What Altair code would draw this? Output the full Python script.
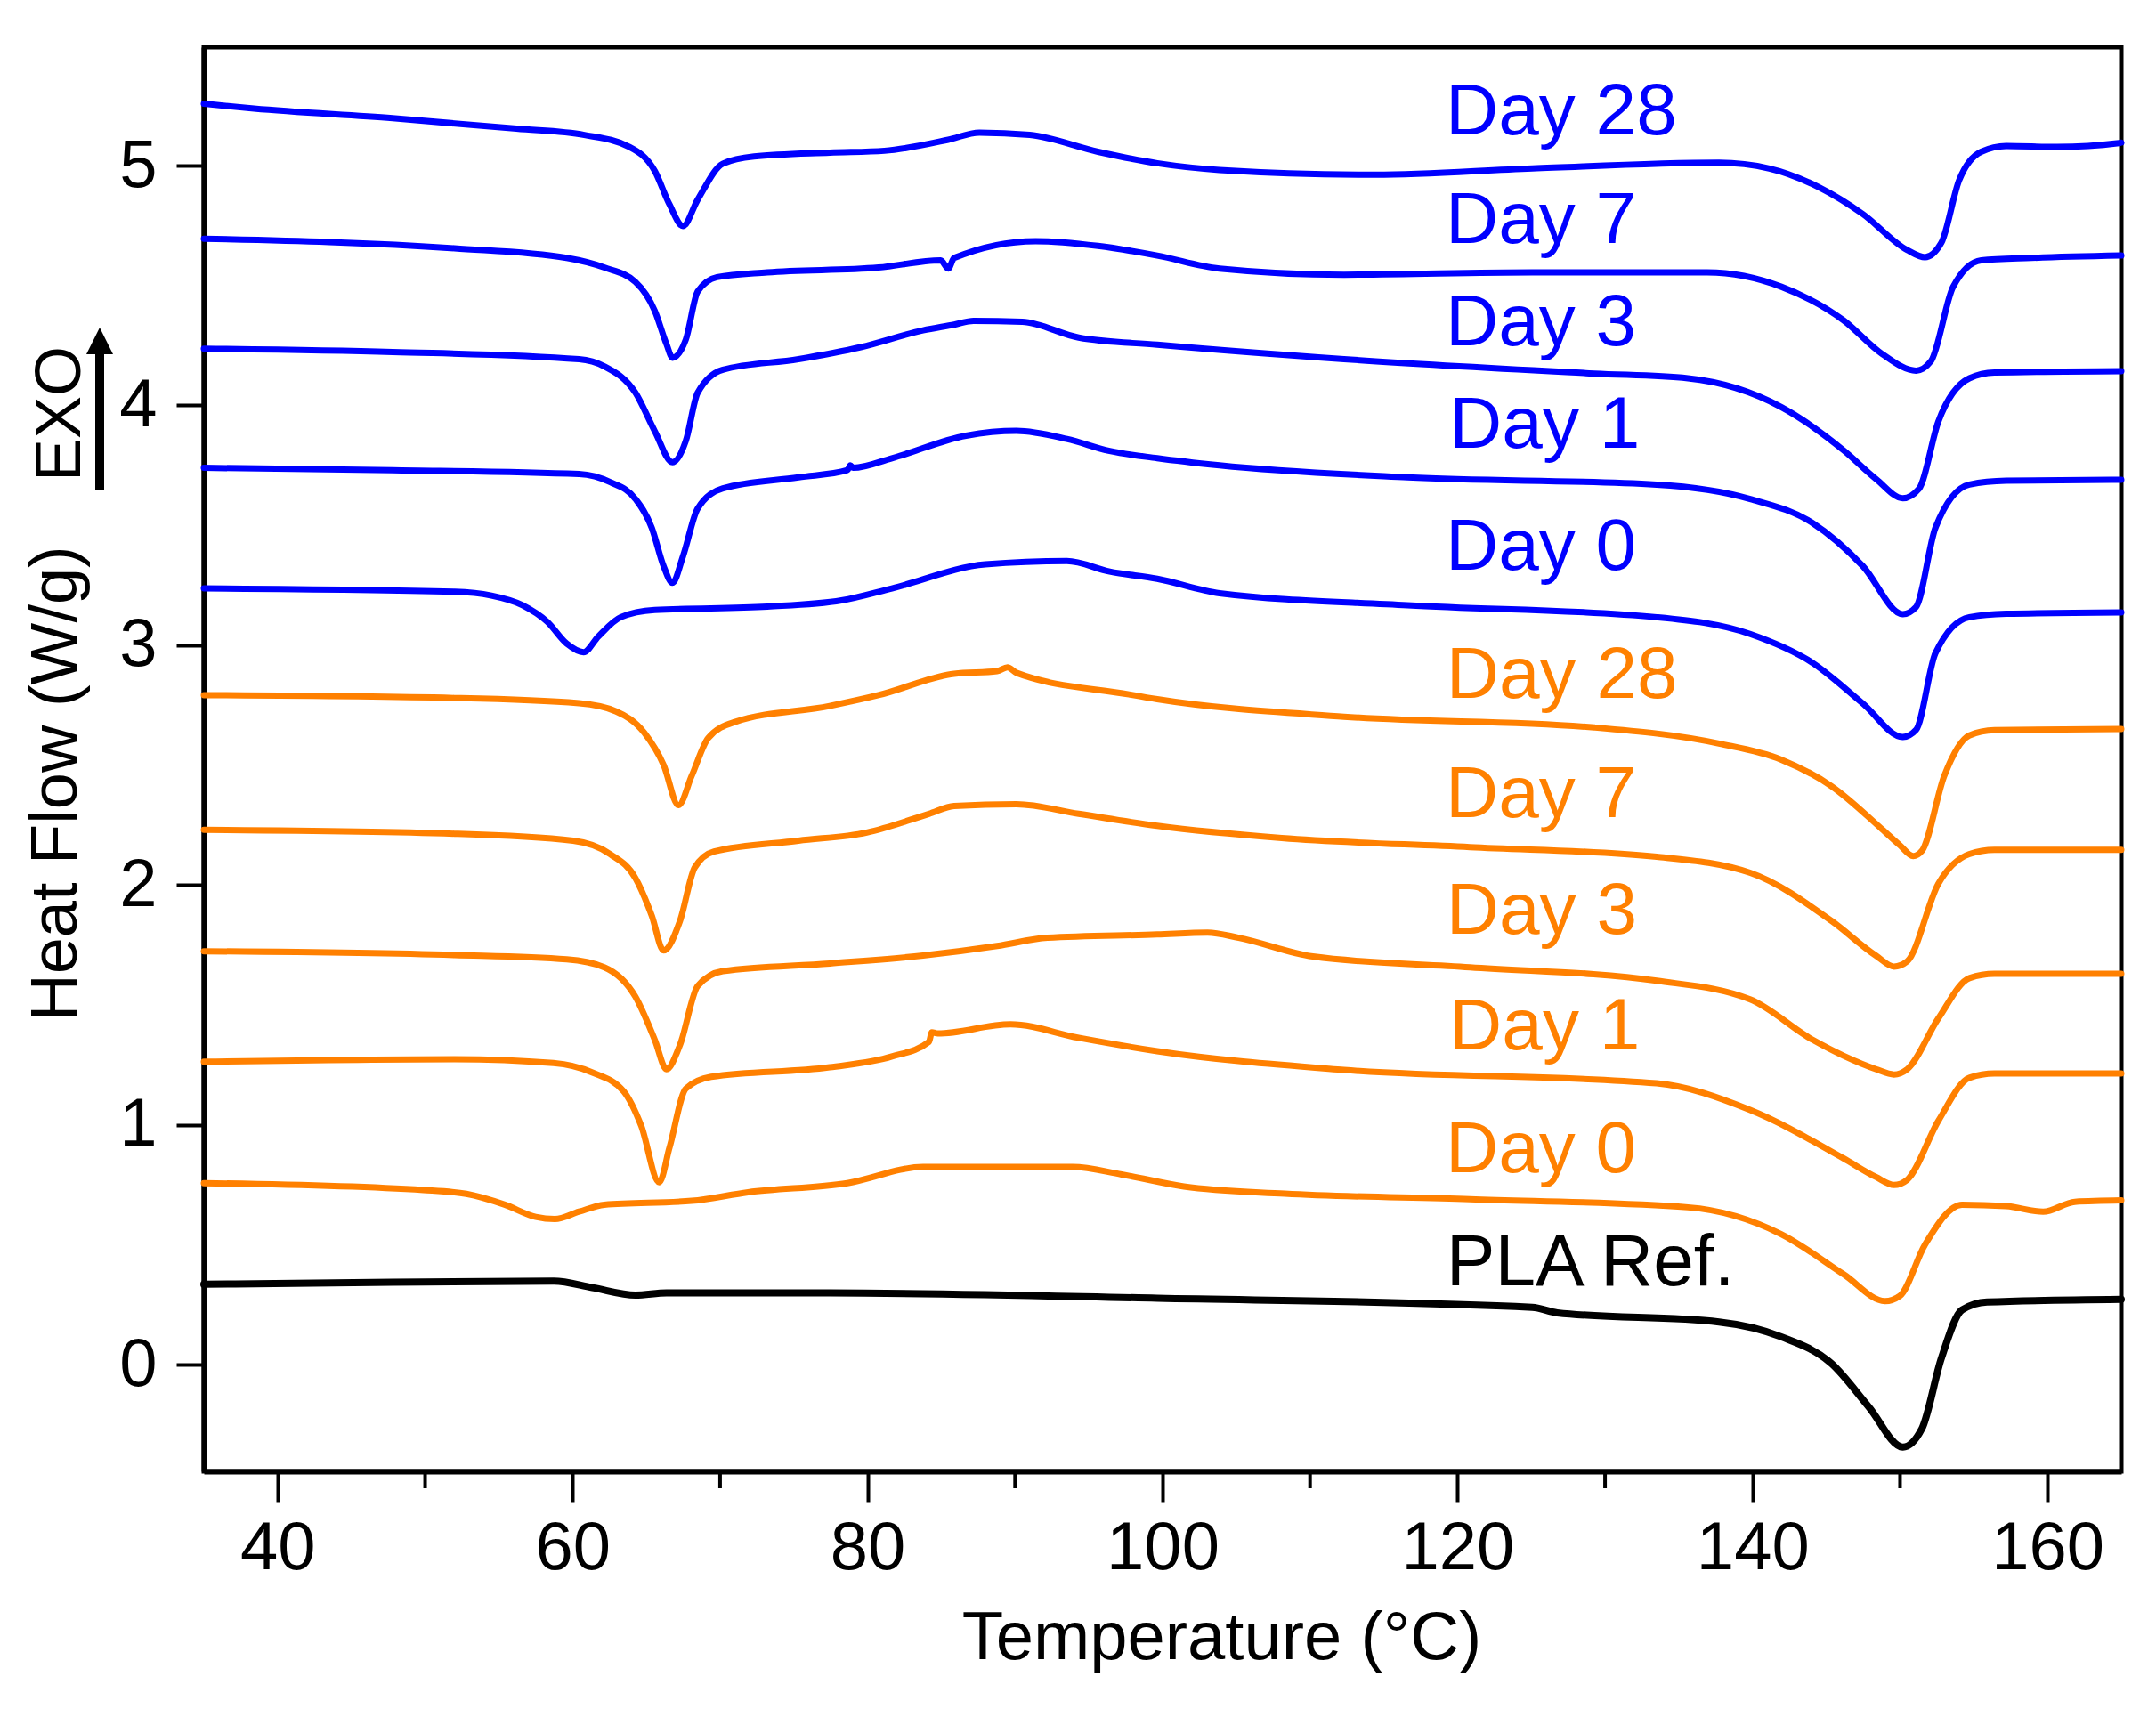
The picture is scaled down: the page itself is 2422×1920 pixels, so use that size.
import altair as alt
import pandas as pd

BLUE = "#0000FF"
ORANGE = "#FF8000"
BLACK = "#000000"
FONT = "Liberation Sans"

# ---- Blue series (temperature in °C, heat flow in W/g, shifted) ----
b28_t = [35.0, 38.4, 47.8, 56.2, 60.8, 63.86, 65.57, 66.57, 67.48, 68.48, 70.19, 72.3, 77.43, 81.14, 85.47, 87.58, 91.0, 95.62, 99.64, 103.86, 114.42, 125.06, 137.73, 141.14, 144.56, 147.48, 150.49, 151.69, 152.8, 154.0, 155.5, 157.2, 160.64, 164.85, 165.0]
b28_y = [5.258, 5.238, 5.198, 5.154, 5.128, 5.078, 4.978, 4.838, 4.748, 4.858, 5.008, 5.038, 5.054, 5.062, 5.108, 5.138, 5.128, 5.058, 5.010, 4.982, 4.962, 4.988, 5.012, 4.988, 4.908, 4.798, 4.648, 4.618, 4.678, 4.938, 5.058, 5.082, 5.078, 5.094, 5.096]

b7_t = [35.0, 52.0, 59.6, 62.15, 64.26, 65.57, 66.37, 66.77, 67.68, 68.48, 69.79, 73.2, 80.74, 84.96, 85.47, 85.87, 91.4, 95.62, 99.64, 103.86, 112.3, 125.06, 136.92, 141.95, 146.17, 148.78, 151.09, 152.1, 153.6, 155.5, 158.9, 165.0]
b7_y = [4.695, 4.655, 4.615, 4.575, 4.515, 4.395, 4.255, 4.199, 4.275, 4.475, 4.535, 4.555, 4.575, 4.605, 4.571, 4.615, 4.685, 4.665, 4.625, 4.571, 4.545, 4.555, 4.555, 4.495, 4.355, 4.215, 4.145, 4.185, 4.495, 4.605, 4.615, 4.625]

b3_t = [35.0, 47.8, 60.44, 62.15, 64.26, 65.57, 66.77, 67.68, 68.48, 70.19, 75.32, 79.54, 83.76, 85.87, 87.18, 90.49, 94.31, 99.64, 112.3, 129.28, 135.62, 141.95, 146.17, 148.38, 150.19, 151.29, 152.6, 154.7, 156.4, 165.0]
b3_y = [4.237, 4.223, 4.193, 4.163, 4.053, 3.893, 3.763, 3.853, 4.053, 4.149, 4.193, 4.243, 4.313, 4.337, 4.353, 4.349, 4.283, 4.253, 4.193, 4.133, 4.113, 3.993, 3.813, 3.693, 3.613, 3.653, 3.933, 4.113, 4.137, 4.143]

b1_t = [35.0, 47.8, 60.44, 62.55, 64.26, 65.37, 66.17, 66.77, 67.48, 68.48, 70.19, 75.32, 78.63, 78.83, 79.03, 81.65, 86.67, 90.09, 93.51, 96.42, 99.64, 103.86, 116.62, 133.5, 139.84, 144.06, 147.48, 150.19, 151.09, 152.4, 154.7, 157.2, 165.0]
b1_y = [3.740, 3.730, 3.714, 3.680, 3.610, 3.490, 3.330, 3.260, 3.370, 3.570, 3.654, 3.700, 3.730, 3.750, 3.740, 3.780, 3.874, 3.894, 3.860, 3.810, 3.780, 3.750, 3.700, 3.670, 3.610, 3.510, 3.330, 3.130, 3.160, 3.490, 3.670, 3.686, 3.690]

b0_t = [35.0, 52.0, 54.5, 56.6, 58.3, 59.6, 60.74, 61.75, 63.26, 65.57, 73.2, 78.23, 81.65, 87.98, 93.51, 96.42, 99.64, 103.86, 116.62, 133.5, 139.84, 144.06, 147.48, 150.19, 151.09, 152.4, 154.7, 157.2, 165.0]
b0_y = [3.237, 3.223, 3.207, 3.167, 3.097, 3.007, 2.971, 3.037, 3.117, 3.147, 3.161, 3.187, 3.237, 3.337, 3.351, 3.307, 3.277, 3.217, 3.167, 3.117, 3.047, 2.927, 2.757, 2.617, 2.647, 2.967, 3.117, 3.131, 3.137]

# ---- Orange series ----
o28_t = [35.0, 52.0, 60.44, 62.95, 64.86, 66.17, 67.18, 68.08, 69.19, 71.0, 77.43, 80.74, 85.87, 88.78, 89.49, 90.09, 97.73, 99.64, 112.3, 129.28, 137.73, 141.95, 145.36, 148.78, 149.99, 150.89, 151.49, 153.0, 154.7, 156.4, 165.0]
o28_y = [2.792, 2.780, 2.758, 2.724, 2.635, 2.501, 2.333, 2.456, 2.613, 2.680, 2.747, 2.792, 2.881, 2.892, 2.908, 2.885, 2.795, 2.775, 2.702, 2.657, 2.590, 2.523, 2.412, 2.233, 2.166, 2.121, 2.143, 2.456, 2.624, 2.646, 2.651]

o7_t = [35.0, 52.0, 60.04, 62.55, 64.26, 65.37, 66.17, 67.28, 68.28, 69.59, 75.32, 79.94, 84.16, 85.87, 90.09, 94.31, 99.64, 108.08, 120.84, 133.5, 139.84, 145.36, 148.38, 149.59, 150.49, 152.6, 154.7, 156.4, 165.0]
o7_y = [2.230, 2.214, 2.185, 2.129, 2.029, 1.872, 1.727, 1.850, 2.073, 2.140, 2.185, 2.219, 2.297, 2.330, 2.337, 2.297, 2.247, 2.196, 2.158, 2.118, 2.051, 1.850, 1.705, 1.660, 1.682, 2.006, 2.129, 2.147, 2.147]

o3_t = [35.0, 52.0, 59.6, 62.15, 64.26, 65.57, 66.37, 67.28, 68.48, 70.19, 77.43, 83.76, 88.78, 92.2, 99.64, 103.05, 105.17, 110.19, 120.84, 133.5, 139.84, 144.06, 146.17, 148.38, 149.59, 150.49, 152.6, 154.7, 156.4, 165.0]
o3_y = [1.724, 1.708, 1.690, 1.657, 1.534, 1.355, 1.232, 1.333, 1.579, 1.641, 1.673, 1.706, 1.746, 1.780, 1.794, 1.802, 1.780, 1.702, 1.657, 1.601, 1.523, 1.355, 1.288, 1.232, 1.210, 1.232, 1.444, 1.612, 1.630, 1.630]

o1_t = [35.0, 52.0, 58.7, 61.35, 63.46, 64.66, 65.87, 66.57, 67.68, 69.39, 77.43, 81.65, 84.16, 84.36, 84.76, 89.69, 94.31, 99.64, 112.3, 133.5, 139.84, 146.17, 148.38, 149.59, 150.49, 152.6, 154.7, 156.4, 165.0]
o1_y = [1.263, 1.274, 1.258, 1.218, 1.140, 0.995, 0.760, 0.905, 1.151, 1.200, 1.240, 1.285, 1.346, 1.386, 1.381, 1.419, 1.363, 1.307, 1.229, 1.173, 1.062, 0.860, 0.782, 0.749, 0.771, 1.017, 1.196, 1.214, 1.214]

o0_t = [35.0, 49.9, 52.8, 55.4, 57.5, 58.8, 60.44, 62.15, 68.08, 71.9, 78.63, 83.76, 93.91, 97.22, 101.45, 108.28, 120.84, 135.62, 141.95, 146.17, 148.98, 149.99, 151.69, 154.2, 157.2, 159.7, 161.85, 165.0]
o0_y = [0.757, 0.728, 0.712, 0.667, 0.616, 0.607, 0.638, 0.667, 0.683, 0.719, 0.757, 0.824, 0.824, 0.793, 0.743, 0.713, 0.690, 0.656, 0.544, 0.377, 0.265, 0.287, 0.500, 0.667, 0.661, 0.638, 0.679, 0.685]

# ---- PLA reference (black) ----
pla_t = [35.0, 47.8, 58.73, 61.35, 64.26, 66.37, 77.43, 99.64, 125.06, 126.76, 137.73, 141.95, 145.36, 147.88, 150.19, 151.49, 152.8, 154.2, 155.9, 165.0]
pla_y = [0.335, 0.344, 0.348, 0.321, 0.290, 0.299, 0.299, 0.277, 0.239, 0.216, 0.178, 0.116, 0.004, -0.176, -0.344, -0.266, 0.026, 0.228, 0.261, 0.272]

# ---- curve labels ----
label_text = ["Day 28", "Day 7", "Day 3", "Day 1", "Day 0",
              "Day 28", "Day 7", "Day 3", "Day 1", "Day 0", "PLA Ref."]
label_t = [119.19, 119.19, 119.19, 119.44, 119.19,
           119.24, 119.19, 119.24, 119.44, 119.19, 119.24]
label_y = [5.231, 4.779, 4.351, 3.923, 3.415, 2.882, 2.384, 1.896, 1.413, 0.904, 0.431]
label_color = [BLUE] * 5 + [ORANGE] * 5 + [BLACK]

x_major = [40, 60, 80, 100, 120, 140, 160]
x_minor = [50, 70, 90, 110, 130, 150]
y_major = [0, 1, 2, 3, 4, 5]

series = [
    ("b28", b28_t, b28_y, BLUE), ("b7", b7_t, b7_y, BLUE), ("b3", b3_t, b3_y, BLUE),
    ("b1", b1_t, b1_y, BLUE), ("b0", b0_t, b0_y, BLUE),
    ("o28", o28_t, o28_y, ORANGE), ("o7", o7_t, o7_y, ORANGE), ("o3", o3_t, o3_y, ORANGE),
    ("o1", o1_t, o1_y, ORANGE), ("o0", o0_t, o0_y, ORANGE),
]
rows = []
for name, ts, ys, col in series:
    for i, (t, y) in enumerate(zip(ts, ys)):
        rows.append({"series": name, "t": t, "y": y, "color": col, "i": i})
df = pd.DataFrame(rows)
df_pla = pd.DataFrame({"t": pla_t, "y": pla_y, "i": list(range(len(pla_t)))})
df_lab = pd.DataFrame({"t": label_t, "y": label_y, "text": label_text, "color": label_color})
df_minor = pd.DataFrame({"t": x_minor})

W, H = 2154, 1600

X = alt.X("t:Q", scale=alt.Scale(domain=[35, 165], nice=False, zero=False),
          axis=alt.Axis(values=x_major, tickSize=35, labelPadding=14, labelFlush=False,
                        title="Temperature (°C)", titleX=1143, titleY=210,
                        titleAlign="center", titleBaseline="alphabetic"))
Y = alt.Y("y:Q", scale=alt.Scale(domain=[-0.445, 5.494], nice=False, zero=False),
          axis=alt.Axis(values=y_major, tickSize=31, labelPadding=22, labelFlush=False,
                        title="Heat Flow (W/g)", titleAngle=270, titleX=-144, titleY=827,
                        titleFontSize=74,
                        titleAlign="center", titleBaseline="alphabetic"))

lines = alt.Chart(df).mark_line(strokeWidth=7, interpolate="monotone",
                                strokeCap="round", strokeJoin="round").encode(
    x=X, y=Y, detail="series:N", color=alt.Color("color:N", scale=None),
    order=alt.Order("i:Q"))

pla = alt.Chart(df_pla).mark_line(strokeWidth=8, interpolate="monotone", color=BLACK,
                                  strokeCap="round", strokeJoin="round").encode(
    x=X, y=Y, order=alt.Order("i:Q"))

labels = alt.Chart(df_lab).mark_text(font=FONT, fontSize=82, align="left",
                                     baseline="middle", dy=2).encode(
    x=X, y=Y, text="text:N", color=alt.Color("color:N", scale=None))

minor = alt.Chart(df_minor).mark_rule(color=BLACK, strokeWidth=4).encode(
    x=X, y=alt.value(H), y2=alt.value(H + 19))

one = alt.Data(values=[{"a": 1}])
exo = alt.Chart(one).mark_text(text="EXO", font=FONT, fontSize=72, angle=270,
                               align="center", baseline="alphabetic", color=BLACK).encode(
    x=alt.value(-139), y=alt.value(412))
shaft = alt.Chart(one).mark_rule(color=BLACK, strokeWidth=10).encode(
    x=alt.value(-117), y=alt.value(497), y2=alt.value(338))
head = alt.Chart(one).mark_point(shape="M-1,1L0,-1L1,1Z", size=900, filled=True,
                                 color=BLACK, opacity=1, strokeWidth=0).encode(
    x=alt.value(-117), y=alt.value(330))

chart = alt.layer(lines, pla, labels, minor, exo, shaft, head).properties(
    width=W, height=H,
    autosize=alt.AutoSizeParams(type="none"),
    padding={"left": 221, "top": 45, "right": 30, "bottom": 250},
).configure_view(stroke=BLACK, strokeWidth=5).configure_axis(
    grid=False, domainColor=BLACK, domainWidth=6, tickColor=BLACK, tickWidth=4,
    labelFont=FONT, labelFontSize=76, labelColor=BLACK,
    titleFont=FONT, titleFontSize=76, titleFontWeight="normal", titleColor=BLACK,
    labelOverlap=False,
)

chart.save("out.html", embed_options={"renderer": "svg", "actions": False})
